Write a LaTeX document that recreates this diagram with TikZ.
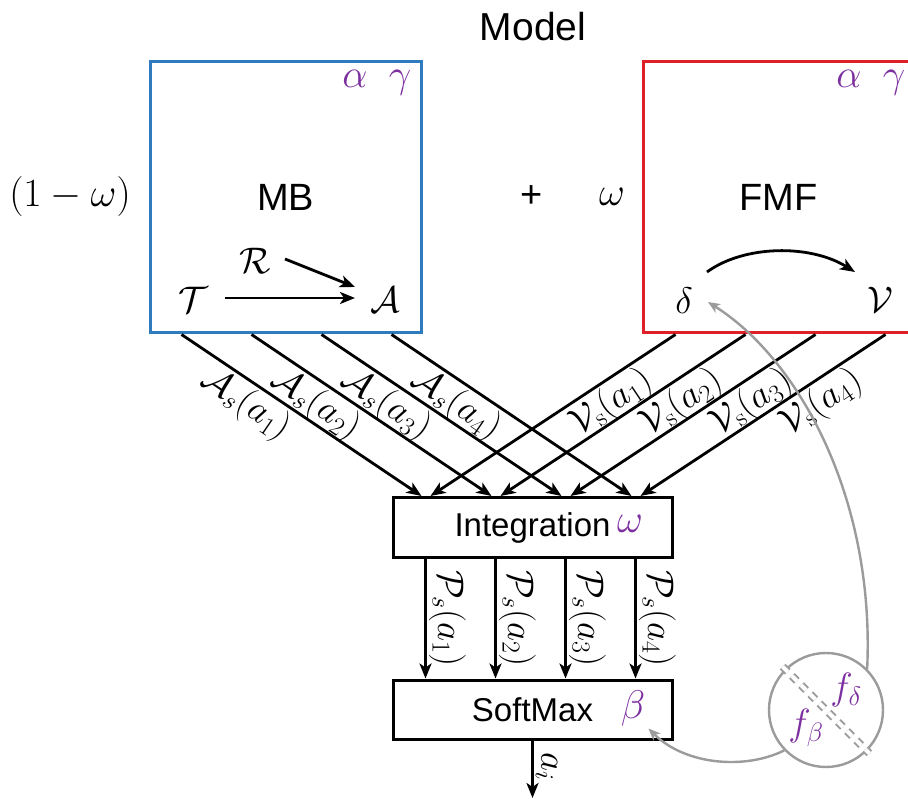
\RequirePackage{fix-cm}
\documentclass[tikz,border=0pt]{standalone}
\usepackage{fontspec}
\setsansfont{Liberation Sans}
\usetikzlibrary{arrows.meta,calc}
\definecolor{mbblue}{RGB}{46,124,190}
\definecolor{fmfred}{RGB}{222,32,40}
\definecolor{parpurple}{RGB}{125,48,160}
\definecolor{linkgray}{RGB}{155,155,155}
\tikzset{
  boxline/.style={line width=3pt},
  flow/.style={line width=2.8pt,-{Stealth[length=15pt,width=12pt,inset=4pt]}},
  glink/.style={draw=linkgray,line width=2.4pt},
  gtip/.style={-{Stealth[length=12pt,width=10pt,inset=3.5pt]}},
  sfbig/.style={font=\fontsize{38}{44}\selectfont\sffamily},
  sfmid/.style={font=\fontsize{33}{38}\selectfont\sffamily},
  mbig/.style={font=\fontsize{40}{46}\selectfont},
  mlab/.style={font=\fontsize{37}{42}\selectfont, inner sep=2pt},
  param/.style={text=parpurple,font=\fontsize{40}{46}\selectfont},
}
\begin{document}
\begin{tikzpicture}[x=1pt,y=-1pt]
\useasboundingbox (0,0) rectangle (908,799);
\clip (0,0) rectangle (908,799);
\fill[white] (0,0) rectangle (908,799);

\node[font=\fontsize{39}{44}\selectfont\sffamily] (title) at (533,27) {Model};

\node[draw=mbblue, boxline, minimum width=271pt, minimum height=271pt, inner sep=0pt, sfbig] (mb) at (285.5,197.5) {MB};
\node[draw=fmfred, boxline, minimum width=271pt, minimum height=271pt, inner sep=0pt, sfbig] (fmf) at (778.5,197.5) {FMF};

\node[mbig] (omw) at (70,197) {$(1-\omega)$};
\node[sfbig] (plus) at (532,197) {+};
\node[mbig] (om) at (612,197) {$\omega$};

\node[param, anchor=base] (mba) at (355,88) {$\alpha$};
\node[param, anchor=base] (mbg) at (400,88) {$\gamma$};
\node[param, anchor=base] (fa) at (849,88) {$\alpha$};
\node[param, anchor=base] (fg) at (894,88) {$\gamma$};

\node[mlab] (T) at (193,300) {$\mathcal{T}$};
\node[mlab] (R) at (255,261) {$\mathcal{R}$};
\node[mlab] (A) at (385,300) {$\mathcal{A}$};
\draw[flow] ($(T)+(32,-2)$) -- ($(A)+(-30,-2)$);
\draw[flow] ($(R)+(30,-2)$) -- ($(A)+(-30,-13)$);

\node[mlab] (dl) at (684,301) {$\delta$};
\node[mlab] (vv) at (880,300) {$\mathcal{V}$};
\draw[flow] ($(dl)+(23,-29)$) .. controls ($(dl)+(60,-56)$) and ($(vv)+(-70,-56)$) .. ($(vv)+(-25,-28)$);

\node[draw, boxline, minimum width=279pt, minimum height=60pt, inner sep=0pt, sfmid] (int) at (532.5,527.5) {Integration};
\node[param] (intw) at (630,524) {$\omega$};
\node[draw, boxline, minimum width=279pt, minimum height=59pt, inner sep=0pt, sfmid] (sm) at (532.5,709.5) {SoftMax};
\node[param] (smb) at (633,708) {$\beta$};

\foreach \i/\a/\b in {1/33/30,2/103/100,3/173/170,4/243/240}{
  \draw[flow] ($(mb.south west)+(\a,0)$) -- node[mlab, pos=0.32, rotate=-34.4, anchor=north]{$\mathcal{A}_s(a_\i)$} ($(int.north west)+(\b,0)$);
}
\foreach \i/\a/\b in {1/34/39,2/104/109,3/174/179,4/244/249}{
  \draw[flow] ($(fmf.south west)+(\a,0)$) -- node[mlab, pos=0.31, rotate=33.9, anchor=north]{$\mathcal{V}_{\mathrm{s}}(a_\i)$} ($(int.north west)+(\b,0)$);
}
\foreach \i/\a in {1/34,2/104,3/174,4/244}{
  \draw[flow] ($(int.south west)+(\a,0)$) -- node[mlab, pos=0.5, rotate=-90, anchor=south]{$\mathcal{P}_s(a_\i)$} ($(sm.north west)+(\a,0)$);
}
\coordinate (out) at (532.5,798);
\draw[flow] (sm.south) -- node[mlab, pos=0.45, rotate=-90, anchor=south]{$a_i$} (out);

\node[circle, draw=linkgray, line width=2.4pt, minimum size=114pt, inner sep=0pt] (circ) at (826,710) {};
\draw[linkgray, line width=2pt, double=white, double distance=4pt, dash pattern=on 7pt off 6pt, shorten <=-3pt, shorten >=-3pt] (circ.135) -- (circ.-45);
\node[param, font=\fontsize{38}{44}\selectfont] (fd) at (846,690) {$f_\delta$};
\node[param, font=\fontsize{38}{44}\selectfont] (fb) at (806,728) {$f_\beta$};

\draw[glink, gtip] (circ.45) .. controls (875,500) and (800,360) .. ($(dl)+(24,1)$);
\draw[glink, gtip] (circ.224) .. controls (745,770) and (685,765) .. ($(sm.south east)+(-25,-12)$);
\end{tikzpicture}
\end{document}
